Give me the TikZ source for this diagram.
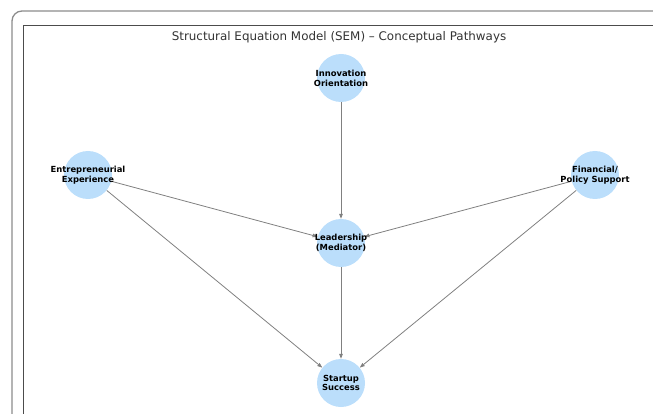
\documentclass[tikz,border=0pt]{standalone}
\usepackage{fontspec}
\setmainfont{DejaVu Sans}
\usetikzlibrary{arrows.meta,backgrounds}
\definecolor{nodefill}{RGB}{187,222,251}
\definecolor{edgecol}{RGB}{128,128,128}
\tikzset{
  var/.style={circle,fill=nodefill,minimum size=48pt,inner sep=0pt},
  lab/.style={align=center,inner sep=0pt,
    font=\fontsize{8.4}{9.8}\selectfont\bfseries},
  path/.style={draw=edgecol,line width=0.8pt,-{Triangle[length=5pt,width=3.6pt]}}
}
\begin{document}
\begin{tikzpicture}[x=1pt,y=-1pt]
\useasboundingbox (0,0) rectangle (653,414);
\clip (0,0) rectangle (653,414);
\draw[draw=gray!90,line width=1.3pt,rounded corners=10pt] (12,430) -- (12,11) -- (670,11);
\draw[draw=black!70,line width=0.9pt] (23,430) -- (23,25) -- (670,25);
\node[text=black!80] (title) at (339,37) {\fontsize{11.9}{13}\selectfont Structural Equation Model (SEM) – Conceptual Pathways};
\node[var] (inn) at (341,78) {};
\node[var] (ent) at (88,175) {};
\node[var] (fin) at (595,175) {};
\node[var] (lea) at (341,243) {};
\node[var] (suc) at (341,383) {};
\node[lab] (innl) at (inn) {Innovation\\Orientation};
\node[lab] (entl) at (ent) {Entrepreneurial\\Experience};
\node[lab] (finl) at (fin) {Financial/\\Policy Support};
\node[lab] (leal) at (lea) {Leadership\\(Mediator)};
\node[lab] (sucl) at (suc) {Startup\\Success};
\begin{pgfonlayer}{background}
\draw[path] (inn) -- (lea);
\draw[path] (ent) -- (lea);
\draw[path] (fin) -- (lea);
\draw[path] (ent) -- (suc);
\draw[path] (fin) -- (suc);
\draw[path] (lea) -- (suc);
\end{pgfonlayer}
\end{tikzpicture}
\end{document}
